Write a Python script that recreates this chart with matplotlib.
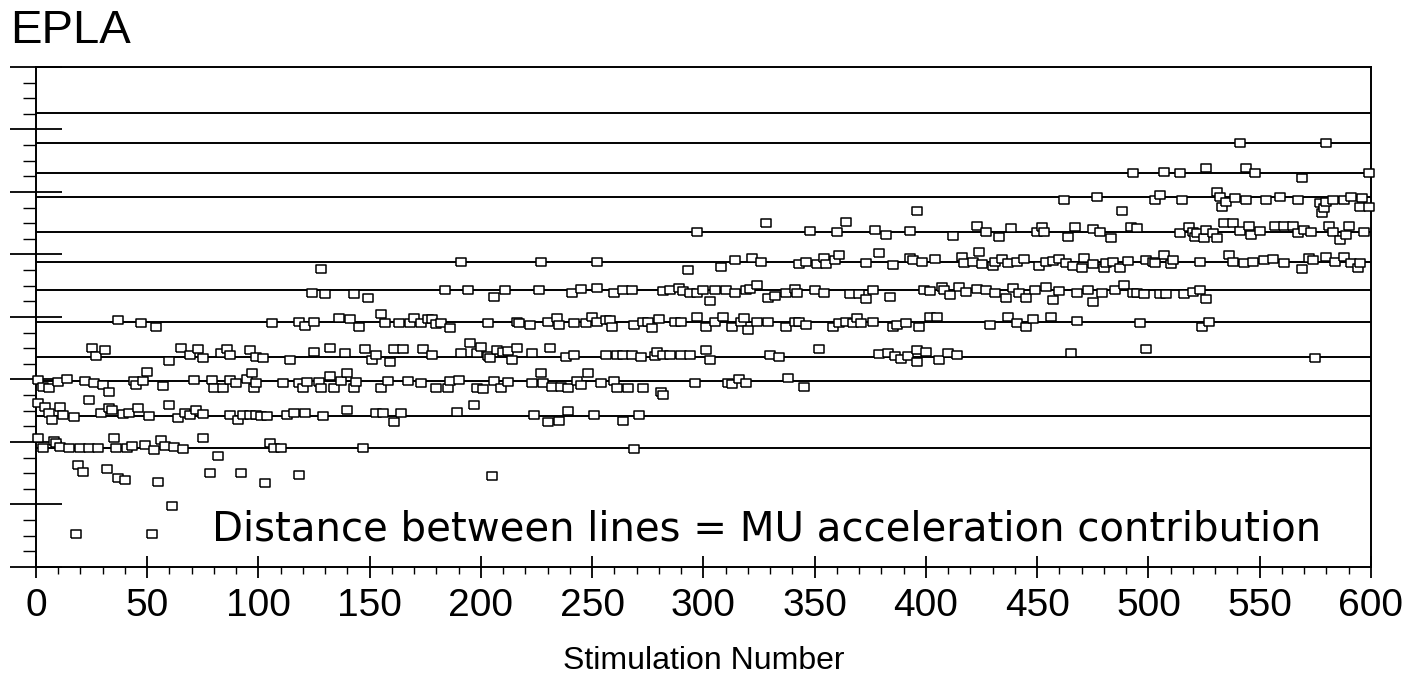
import matplotlib
matplotlib.use("Agg")
import matplotlib.pyplot as plt
from matplotlib.ticker import MultipleLocator

plt.rcParams['font.family'] = ['Liberation Sans', 'DejaVu Sans']

# reference levels (one line per recruited motor unit)
ref_lines = [1.90, 2.41, 2.97, 3.36, 3.92, 4.43, 4.88, 5.36, 5.92, 6.30, 6.78, 7.26]

# points, grouped by the line they sit on
below_x = [18, 19, 21, 32, 37, 40, 52, 55, 61, 78, 82, 92, 103, 118, 205]
below_y = [0.52, 1.63, 1.52, 1.56, 1.43, 1.39, 0.52, 1.36, 0.97, 1.51, 1.77, 1.51, 1.35, 1.47, 1.45]

l1_x = [1, 3, 8, 9, 11, 15, 20, 24, 28, 35, 36, 41, 43, 49, 53, 56, 58, 62, 66, 75,
        105, 107, 110, 147, 269]
l1_y = [2.06, 1.90, 2.02, 1.98, 1.92, 1.90, 1.90, 1.91, 1.91, 2.06, 1.91, 1.91, 1.93, 1.95, 1.87, 2.03, 1.93, 1.92, 1.88, 2.06,
        1.98, 1.90, 1.91, 1.91, 1.88]

l2_x = [1, 4, 6, 7, 11, 12, 17, 24, 29, 33, 34, 39, 42, 46, 51, 60, 64, 67, 69, 72, 75, 87, 91, 93, 96, 99,
        101, 104, 113, 116, 121, 129, 140, 153, 156, 161, 164, 189, 197,
        224, 230, 235, 239, 251, 264, 271]
l2_y = [2.62, 2.56, 2.46, 2.35, 2.56, 2.43, 2.40, 2.67, 2.47, 2.54, 2.51, 2.45, 2.46, 2.54, 2.41, 2.59, 2.38, 2.46, 2.43, 2.51, 2.45, 2.43, 2.35, 2.43, 2.43, 2.43,
        2.41, 2.41, 2.43, 2.47, 2.47, 2.41, 2.51, 2.47, 2.47, 2.32, 2.47, 2.48, 2.59,
        2.43, 2.32, 2.34, 2.50, 2.43, 2.34, 2.43]

l3_x = [1, 3, 6, 10, 14, 22, 26, 30, 33, 44, 45, 48, 50, 57, 71, 79, 80, 84, 87, 90, 95, 97, 98, 99,
        111, 118, 120, 122, 127, 128, 132, 134, 137, 140, 143, 144, 155, 158, 167, 173, 180, 185, 186, 190, 198,
        201, 206, 209, 212, 223, 227, 228, 232, 236, 239, 243, 245, 248, 254, 260, 261, 266, 273, 281, 282, 296,
        311, 313, 316, 319, 338, 345]
l3_y = [2.99, 2.88, 2.86, 2.96, 3.00, 2.97, 2.95, 2.91, 2.80, 2.97, 2.91, 2.97, 3.12, 2.89, 2.99, 2.99, 2.86, 2.86, 2.99, 2.95, 3.00, 3.10, 2.86, 2.95,
        2.94, 2.94, 2.86, 2.96, 2.96, 2.86, 3.05, 2.86, 2.98, 3.10, 2.86, 2.96, 2.86, 2.97, 2.97, 2.95, 2.86, 2.86, 2.98, 2.99, 2.86,
        2.84, 2.98, 2.86, 2.96, 2.95, 3.11, 2.95, 2.88, 2.88, 2.86, 2.97, 2.91, 3.10, 2.95, 2.98, 2.86, 2.86, 2.86, 2.80, 2.75, 2.95,
        2.95, 2.93, 3.00, 2.95, 3.02, 2.88]

l4_x = [25, 27, 31, 60, 65, 69, 73, 75, 83, 86, 87, 96, 99,
        102, 114, 125, 132, 139, 148, 151, 153, 159, 161, 165, 174, 178, 191, 195, 198,
        200, 203, 204, 207, 210, 212, 214, 216, 223, 231, 238, 242, 256, 261, 264, 268, 272, 278, 279, 282, 285, 290, 294,
        301, 303, 330, 334, 352, 379, 383, 386, 389, 392, 396, 396,
        400, 406, 410, 414, 465, 499, 575]
l4_y = [3.50, 3.37, 3.47, 3.29, 3.51, 3.39, 3.48, 3.35, 3.42, 3.48, 3.39, 3.47, 3.36,
        3.34, 3.31, 3.44, 3.50, 3.43, 3.49, 3.31, 3.39, 3.28, 3.48, 3.49, 3.49, 3.39, 3.42, 3.58, 3.42,
        3.52, 3.37, 3.35, 3.47, 3.44, 3.46, 3.31, 3.51, 3.42, 3.50, 3.36, 3.39, 3.39, 3.39, 3.39, 3.39, 3.36, 3.37, 3.44, 3.39, 3.39, 3.39, 3.39,
        3.47, 3.31, 3.39, 3.36, 3.48, 3.41, 3.42, 3.37, 3.32, 3.37, 3.47, 3.28,
        3.44, 3.31, 3.43, 3.39, 3.42, 3.48, 3.35]

l5_x = [37, 47, 54,
        106, 118, 121, 125, 136, 141, 145, 155, 157, 163, 168, 170, 173, 176, 178, 180, 182, 186,
        203, 216, 217, 222, 230, 234, 235, 242, 247, 250, 252, 256, 258, 259, 269, 273, 275, 277, 280, 287, 290, 297,
        301, 305, 309, 313, 317, 318, 320, 324, 329, 337, 341, 343, 346, 358, 361, 364, 367, 369, 371, 376, 385, 387, 391, 397,
        402, 405, 429, 437, 441, 445, 448, 456, 468, 496, 524, 527]
l5_y = [3.95, 3.91, 3.84,
        3.91, 3.92, 3.85, 3.92, 3.99, 3.96, 3.84, 4.05, 3.90, 3.90, 3.91, 3.99, 3.91, 3.96, 3.96, 3.89, 3.90, 3.83,
        3.90, 3.92, 3.90, 3.87, 3.92, 3.98, 3.87, 3.91, 3.91, 4.00, 3.92, 3.95, 3.95, 3.84, 3.87, 3.92, 3.92, 3.82, 3.96, 3.92, 3.92, 4.00,
        3.84, 3.92, 4.00, 3.84, 3.92, 3.98, 3.79, 3.92, 3.92, 3.84, 3.92, 3.92, 3.87, 3.84, 3.90, 3.92, 3.90, 3.98, 3.90, 3.92, 3.84, 3.87, 3.90, 3.84,
        4.00, 4.00, 3.87, 4.00, 3.90, 3.84, 3.96, 4.00, 3.94, 3.90, 3.84, 3.92]

l6_x = [124, 130, 143, 149, 184, 194,
        206, 211, 226, 241, 245, 252, 260, 264, 268, 282, 285, 289, 291, 294, 297,
        300, 303, 305, 310, 314, 319, 321, 324, 329, 332, 337, 341, 342, 350, 354, 366, 370, 373, 376, 384,
        399, 402, 407, 408, 411, 415, 418, 423, 427, 431, 436, 439, 442, 445, 449, 454, 457, 460, 468, 473, 475, 479, 485, 489, 493, 495,
        498, 505, 508, 516, 520, 523, 526]
l6_y = [4.38, 4.37, 4.37, 4.31, 4.43, 4.43,
        4.32, 4.43, 4.43, 4.39, 4.44, 4.47, 4.38, 4.43, 4.43, 4.42, 4.43, 4.47, 4.42, 4.38, 4.38,
        4.43, 4.26, 4.43, 4.43, 4.38, 4.43, 4.44, 4.51, 4.30, 4.33, 4.39, 4.44, 4.38, 4.43, 4.38, 4.37, 4.37, 4.28, 4.43, 4.32,
        4.43, 4.42, 4.48, 4.43, 4.35, 4.48, 4.40, 4.44, 4.43, 4.38, 4.31, 4.47, 4.38, 4.30, 4.43, 4.48, 4.27, 4.42, 4.38, 4.43, 4.24, 4.38, 4.43, 4.51, 4.38, 4.38,
        4.37, 4.37, 4.37, 4.37, 4.40, 4.43, 4.28]

l7_x = [128, 191, 227, 252, 293,
        308, 314, 322, 326, 343, 346, 351, 354, 355, 359, 361, 373, 379, 385, 393,
        394, 398, 404, 416, 417, 421, 424, 425, 430, 431, 434, 437, 441, 444, 451, 454, 457, 460, 463, 466, 470, 471, 475, 480, 481, 484, 487, 491,
        499, 502, 503, 507, 510, 511, 523, 536, 538, 543, 547, 552, 556, 561, 569, 572, 574, 580, 584, 588, 591, 594, 595]
l7_y = [4.77, 4.88, 4.88, 4.88, 4.75,
        4.80, 4.91, 4.94, 4.88, 4.85, 4.88, 4.85, 4.94, 4.85, 4.91, 4.99, 4.87, 5.03, 4.83, 4.94,
        4.91, 4.88, 4.92, 4.96, 4.86, 4.88, 5.04, 4.85, 4.81, 4.88, 4.92, 4.87, 4.88, 4.92, 4.81, 4.88, 4.90, 4.92, 4.86, 4.81, 4.78, 4.94, 4.85, 4.78, 4.87, 4.88, 4.78, 4.90,
        4.91, 4.88, 4.87, 4.99, 4.85, 4.91, 4.88, 4.99, 4.88, 4.87, 4.88, 4.91, 4.92, 4.87, 4.76, 4.94, 4.91, 4.96, 4.88, 4.96, 4.87, 4.78, 4.87]

l8_x = [297, 328, 348, 360, 364, 377, 382, 393, 396,
        412, 423, 427, 433, 438, 450, 452, 453, 464, 467, 475, 478, 483, 488, 492, 495,
        514, 518, 520, 521, 522, 525, 526, 529, 531, 534, 538, 541, 545, 546, 550, 557, 561, 565, 567, 570, 573, 581, 583, 586, 589, 590, 597]
l8_y = [5.36, 5.50, 5.38, 5.36, 5.52, 5.39, 5.31, 5.38, 5.70,
        5.29, 5.45, 5.36, 5.28, 5.43, 5.36, 5.44, 5.36, 5.28, 5.44, 5.40, 5.36, 5.26, 5.70, 5.44, 5.42,
        5.34, 5.44, 5.36, 5.28, 5.34, 5.26, 5.39, 5.34, 5.26, 5.50, 5.50, 5.38, 5.45, 5.31, 5.38, 5.45, 5.45, 5.45, 5.35, 5.39, 5.36, 5.45, 5.36, 5.23, 5.31, 5.45, 5.36]

l9_x = [462, 477, 503, 505, 515, 531, 532, 533, 535, 539, 544, 553, 559, 567, 577, 578, 579, 580, 583, 588, 591, 595, 596, 599]
l9_y = [5.87, 5.92, 5.87, 5.95, 5.87, 6.00, 5.92, 5.76, 5.84, 5.91, 5.87, 5.87, 5.92, 5.87, 5.82, 5.66, 5.74, 5.84, 5.87, 5.87, 5.92, 5.76, 5.91, 5.76]

l10_x = [493, 507, 514, 526, 544, 548, 569, 599]
l10_y = [6.30, 6.32, 6.30, 6.38, 6.39, 6.30, 6.23, 6.30]

l11_x = [541, 580]
l11_y = [6.79, 6.78]

groups = [(below_x, below_y), (l1_x, l1_y), (l2_x, l2_y), (l3_x, l3_y), (l4_x, l4_y),
          (l5_x, l5_y), (l6_x, l6_y), (l7_x, l7_y), (l8_x, l8_y), (l9_x, l9_y),
          (l10_x, l10_y), (l11_x, l11_y)]

fig = plt.figure(figsize=(14.17, 6.9), dpi=100)
ax = fig.add_axes([0.0254, 0.1783, 0.9421, 0.7246])

for y in ref_lines:
    ax.axhline(y, color='black', lw=1.4, zorder=1)

# slightly flat open squares
box = [(-1, -0.75), (1, -0.75), (1, 0.75), (-1, 0.75), (-1, -0.75)]
for gx, gy in groups:
    ax.plot(gx, gy, linestyle='none', marker=box, markersize=7.5,
            markerfacecolor='white', markeredgecolor='black', markeredgewidth=1.1,
            zorder=3, clip_on=False)

ax.set_xlim(0, 600)
ax.set_ylim(0, 8)
ax.xaxis.set_major_locator(MultipleLocator(50))
ax.xaxis.set_minor_locator(MultipleLocator(10))
ax.yaxis.set_major_locator(MultipleLocator(1))
ax.yaxis.set_minor_locator(MultipleLocator(0.25))

ax.tick_params(axis='x', which='major', direction='inout', length=16, width=1.3,
               labelsize=28, pad=7)
ax.tick_params(axis='x', which='minor', direction='out', length=5, width=1.0)
ax.tick_params(axis='y', which='major', direction='inout', length=37, width=1.3,
               labelleft=False)
ax.tick_params(axis='y', which='minor', direction='out', length=9.5, width=1.0)

for s in ax.spines.values():
    s.set_linewidth(1.4)

ax.set_xlabel('Stimulation Number', fontsize=23, labelpad=16)

ax.text(79, 0.6, 'Distance between lines = MU acceleration contribution',
        fontsize=29, family=['DejaVu Sans'], ha='left', va='center')

fig.text(10 / 1417, 1 - 31 / 690, 'EPLA', fontsize=34, ha='left', va='center')

fig.savefig('out.png', dpi=100)
